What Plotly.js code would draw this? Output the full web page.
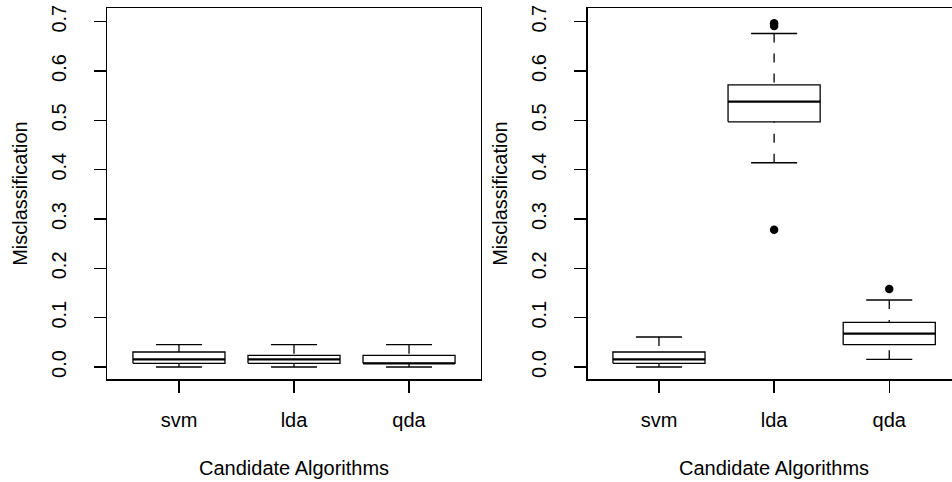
<!DOCTYPE html>
<html>
<head>
<meta charset="utf-8">
<script src="https://cdn.plot.ly/plotly-3.0.1.min.js"></script>
<style>html,body{margin:0;padding:0;background:#fff;}#chart{width:952px;height:482px;}</style>
</head>
<body>
<div id="chart"></div>
<script>
// ---- data ----
const categories = ['svm', 'lda', 'qda'];
const yTickVals = [0, 0.1, 0.2, 0.3, 0.4, 0.5, 0.6, 0.7];
const yTickText = ['0.0', '0.1', '0.2', '0.3', '0.4', '0.5', '0.6', '0.7'];

// left panel
const p1Lower  = [0.0,    0.0,    0.0];
const p1Q1     = [0.0075, 0.0075, 0.0075];
const p1Median = [0.0156, 0.0156, 0.0075];
const p1Q3     = [0.0304, 0.0237, 0.0237];
const p1Upper  = [0.0452, 0.0452, 0.0452];
const p1OutlierCat = [];
const p1OutlierVal = [];

// right panel
const p2Lower  = [0.0,    0.414, 0.0156];
const p2Q1     = [0.0075, 0.497, 0.0452];
const p2Median = [0.0156, 0.538, 0.0675];
const p2Q3     = [0.0304, 0.572, 0.0906];
const p2Upper  = [0.0608, 0.676, 0.1358];
const p2OutlierCat = ['lda', 'lda', 'lda', 'qda'];
const p2OutlierVal = [0.697, 0.691, 0.278, 0.158];

const xTitle = 'Candidate Algorithms';
const yTitle = 'Misclassification';

// ---- drawing ----
const FONT = 'Liberation Sans, Arial, Helvetica, sans-serif';
const BOXW = 0.4, STAPLEW = 0.2;

function panelTraces(lower, q1, med, q3, upper, oCat, oVal, xa, ya) {
  const bx = [], by = [], mx = [], my = [], wx = [], wy = [], sx = [], sy = [];
  categories.forEach((c, i) => {
    const p = i + 1;
    bx.push(p - BOXW, p + BOXW, p + BOXW, p - BOXW, p - BOXW, null);
    by.push(q1[i], q1[i], q3[i], q3[i], q1[i], null);
    mx.push(p - BOXW, p + BOXW, null);
    my.push(med[i], med[i], null);
    wx.push(p, p, null, p, p, null);
    wy.push(upper[i], q3[i], null, lower[i], q1[i], null);
    sx.push(p - STAPLEW, p + STAPLEW, null, p - STAPLEW, p + STAPLEW, null);
    sy.push(upper[i], upper[i], null, lower[i], lower[i], null);
  });
  const common = {type: 'scatter', mode: 'lines', xaxis: xa, yaxis: ya, hoverinfo: 'skip', showlegend: false};
  const out = [
    Object.assign({}, common, {x: wx, y: wy, line: {color: '#000', width: 1.3, dash: '9px,11px'}}),
    Object.assign({}, common, {x: sx, y: sy, line: {color: '#000', width: 1.3}}),
    Object.assign({}, common, {x: bx, y: by, line: {color: '#000', width: 1.3}}),
    Object.assign({}, common, {x: mx, y: my, line: {color: '#000', width: 2.2}})
  ];
  if (oCat.length) {
    out.push({type: 'scatter', mode: 'markers', xaxis: xa, yaxis: ya, showlegend: false,
      x: oCat.map(c => categories.indexOf(c) + 1), y: oVal,
      marker: {color: '#000', size: 8.5, symbol: 'circle'}});
  }
  return out;
}

const traces = [].concat(
  panelTraces(p1Lower, p1Q1, p1Median, p1Q3, p1Upper, p1OutlierCat, p1OutlierVal, 'x', 'y'),
  panelTraces(p2Lower, p2Q1, p2Median, p2Q3, p2Upper, p2OutlierCat, p2OutlierVal, 'x2', 'y2')
);

const W = 952, H = 482;
const yDom = [(H - 379.3) / H, (H - 8.3) / H];
const x1Dom = [107.3 / W, 480.7 / W];
const x2Dom = [587.7 / W, 1];

const xBase = {
  tickvals: [1, 2, 3], ticktext: categories, ticks: 'outside', ticklen: 12, tickwidth: 1.3,
  tickcolor: '#000', showline: true, linecolor: '#000', linewidth: 1.3, mirror: true,
  showgrid: false, zeroline: false, fixedrange: true,
  tickfont: {family: FONT, size: 20, color: '#000'}, ticklabelstandoff: 10
};
const yBase = {
  tickvals: yTickVals, ticktext: yTickText, ticks: 'outside', ticklen: 12, tickwidth: 1.3,
  tickcolor: '#000', showline: true, linecolor: '#000', linewidth: 1.3,
  showgrid: false, zeroline: false, fixedrange: true, tickangle: -90,
  range: [-0.0249, 0.7271], domain: yDom,
  tickfont: {family: FONT, size: 20, color: '#000'}, ticklabelstandoff: 20
};

const layout = {
  width: W, height: H,
  margin: {l: 0, r: 0, t: 0, b: 0},
  paper_bgcolor: '#fff', plot_bgcolor: '#fff',
  showlegend: false,
  xaxis: Object.assign({}, xBase, {domain: x1Dom, range: [0.377, 3.623], anchor: 'y'}),
  yaxis: Object.assign({}, yBase, {anchor: 'x', mirror: true}),
  xaxis2: Object.assign({}, xBase, {domain: x2Dom, range: [0.381, 3.545], anchor: 'y2'}),
  yaxis2: Object.assign({}, yBase, {anchor: 'x2', mirror: false}),
  annotations: [
    {text: xTitle, xref: 'paper', yref: 'paper', x: (x1Dom[0] + x1Dom[1]) / 2, y: (H - 468) / H,
     xanchor: 'center', yanchor: 'middle', showarrow: false, font: {family: FONT, size: 20, color: '#000'}},
    {text: xTitle, xref: 'paper', yref: 'paper', x: (587.7 + 373.4 / 2) / W, y: (H - 468) / H,
     xanchor: 'center', yanchor: 'middle', showarrow: false, font: {family: FONT, size: 20, color: '#000'}},
    {text: yTitle, xref: 'paper', yref: 'paper', x: 20 / W, y: (yDom[0] + yDom[1]) / 2, textangle: -90,
     xanchor: 'center', yanchor: 'middle', showarrow: false, font: {family: FONT, size: 20, color: '#000'}},
    {text: yTitle, xref: 'paper', yref: 'paper', x: 500 / W, y: (yDom[0] + yDom[1]) / 2, textangle: -90,
     xanchor: 'center', yanchor: 'middle', showarrow: false, font: {family: FONT, size: 20, color: '#000'}}
  ]
};

Plotly.newPlot('chart', traces, layout, {displayModeBar: false, staticPlot: true});
</script>
</body>
</html>
